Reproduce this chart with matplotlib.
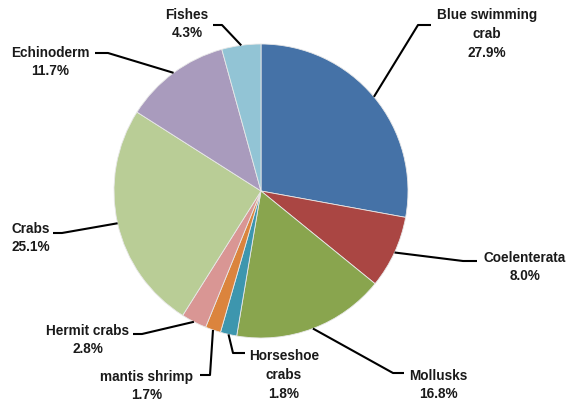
import numpy as np
import matplotlib.pyplot as plt

# Share of each group (%)
groups = ['Blue swimming\ncrab', 'Coelenterata', 'Mollusks', 'Horseshoe\ncrabs',
          'mantis shrimp', 'Hermit crabs', 'Crabs', 'Echinoderm', 'Fishes']
shares = [27.9, 8.0, 16.8, 1.8, 1.7, 2.8, 25.1, 11.7, 4.3]
colors = ['#4572A7', '#AA4643', '#89A54E', '#3D96AE', '#DB843D',
          '#D99694', '#B9CD96', '#A99BBD', '#92C4D5']

W, H = 570, 408
cx, cy, r = 261, H - 191, 147

# label text centre, and elbow points of the leader line (pixel layout, y from top)
label_pos = [(487, 34), (525, 267), (438, 385), (284, 375), (147, 386),
             (88, 340), (31, 238), (50, 62), (187, 24)]
elbows = [[(418, 25), (431, 25)],
          [(463, 261), (477, 261)],
          [(393, 373), (404, 373)],
          [(233, 353), (245, 353)],
          [(210, 375), (200, 375)],
          [(142, 334), (133, 334)],
          [(62, 233), (53, 233)],
          [(108, 53), (95, 53)],
          [(222, 25), (213, 25)]]

fig = plt.figure(figsize=(W / 100, H / 100), dpi=100)
ax = fig.add_axes([0, 0, 1, 1])

wedges, _ = ax.pie(shares, colors=colors, startangle=90, counterclock=False,
                   center=(cx, cy), radius=r,
                   wedgeprops=dict(edgecolor='#e8e8e8', linewidth=0.6))
ax.set_xlim(0, W)
ax.set_ylim(0, H)
ax.set_aspect('equal')
ax.axis('off')

for w, name, val, pos, elb in zip(wedges, groups, shares, label_pos, elbows):
    mid = np.deg2rad((w.theta1 + w.theta2) / 2)
    px = cx + r * np.cos(mid)
    py = cy + r * np.sin(mid)
    xs = [px] + [e[0] for e in elb]
    ys = [py] + [H - e[1] for e in elb]
    ax.plot(xs, ys, color='black', lw=1.5, solid_capstyle='butt')
    ax.text(pos[0], H - pos[1], f'{name}\n{val:.1f}%', ha='center', va='center',
            fontsize=9.8, fontweight='bold', family='Liberation Sans',
            linespacing=1.45, color='#1a1a1a')

fig.savefig('out.png', dpi=100)
